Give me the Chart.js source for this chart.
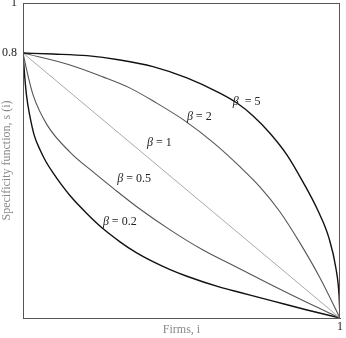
<!DOCTYPE html>
<html>
<head>
<meta charset="utf-8">
<script src="https://cdn.jsdelivr.net/npm/chart.js@4.4.1/dist/chart.umd.min.js"></script>
<style>
  html, body { margin: 0; padding: 0; background: #fff; }
  #wrap { width: 346px; height: 338px; position: relative; }
</style>
</head>
<body>
<div id="wrap"><canvas id="specChart"></canvas></div>
<script>
// Specificity function s(i) against firms i, one curve per beta.
// Values (x = firms share, y = specificity).
const beta5X = [0, 0.095, 0.202, 0.306, 0.410, 0.517, 0.621, 0.675, 0.726, 0.779, 0.833, 0.883, 0.931, 0.965, 0.987, 0.997, 1];
const beta5Y = [0.8, 0.797, 0.792, 0.779, 0.759, 0.725, 0.679, 0.649, 0.610, 0.558, 0.492, 0.411, 0.323, 0.242, 0.151, 0.069, 0];

const beta2X = [0, 0.148, 0.252, 0.338, 0.416, 0.511, 0.606, 0.685, 0.748, 0.811, 0.874, 0.937, 1];
const beta2Y = [0.8, 0.764, 0.728, 0.694, 0.652, 0.595, 0.525, 0.456, 0.395, 0.320, 0.226, 0.121, 0];

const beta1X = [0, 1];
const beta1Y = [0.8, 0];

const beta05X = [0, 0.013, 0.032, 0.076, 0.148, 0.221, 0.284, 0.360, 0.464, 0.568, 0.685, 0.795, 0.893, 1];
const beta05Y = [0.8, 0.743, 0.673, 0.583, 0.501, 0.441, 0.392, 0.335, 0.266, 0.205, 0.148, 0.094, 0.048, 0];

const beta02X = [0, 0.005, 0.011, 0.021, 0.035, 0.054, 0.073, 0.095, 0.120, 0.148, 0.202, 0.252, 0.306, 0.356, 0.410, 0.464, 0.517, 0.621, 0.685, 0.789, 0.893, 1];
const beta02Y = [0.8, 0.734, 0.673, 0.613, 0.553, 0.507, 0.471, 0.438, 0.404, 0.370, 0.315, 0.270, 0.230, 0.198, 0.170, 0.146, 0.126, 0.093, 0.077, 0.051, 0.025, 0];

// axis ticks (the figure's top edge is labelled 1)
const yAxisTop = 0.951;
const yTickValues = [0.8, yAxisTop];
const yTickLabels = ['0.8', '1'];
const xTickValues = [1];
const xTickLabels = ['1'];

// curve labels: value text and anchor (left edge, middle) in data units
const labelTexts = ['  = 5', ' = 2', ' = 1', ' = 0.5', ' = 0.2'];
const labelX = [0.662, 0.517, 0.391, 0.297, 0.252];
const labelY = [0.652, 0.607, 0.528, 0.420, 0.290];

const SERIF = '"Liberation Serif", "DejaVu Serif", serif';

function toPoints(xs, ys) {
    return xs.map((x, k) => ({ x: x, y: ys[k] }));
}

function curve(xs, ys, color, width) {
    return {
        data: toPoints(xs, ys),
        borderColor: color,
        borderWidth: width,
        pointRadius: 0,
        fill: false,
        cubicInterpolationMode: 'monotone'
    };
}

// box round the plot area (top and right edges)
const framePlugin = {
    id: 'frame',
    afterDatasetsDraw(chart) {
        const a = chart.chartArea;
        const ctx = chart.ctx;
        ctx.save();
        ctx.strokeStyle = '#555';
        ctx.lineWidth = 1;
        ctx.strokeRect(a.left + 0.5, a.top + 0.5, a.right - a.left - 1, a.bottom - a.top);
        ctx.restore();
    }
};

// "β = n" labels next to the curves
const betaLabelPlugin = {
    id: 'betaLabels',
    afterDatasetsDraw(chart) {
        const ctx = chart.ctx;
        const xs = chart.scales.x;
        const ys = chart.scales.y;
        ctx.save();
        ctx.fillStyle = '#222';
        ctx.textBaseline = 'middle';
        ctx.textAlign = 'left';
        labelTexts.forEach((txt, k) => {
            let px = xs.getPixelForValue(labelX[k]);
            const py = ys.getPixelForValue(labelY[k]);
            ctx.font = 'italic 12px ' + SERIF;
            ctx.fillText('β', px, py);
            px += ctx.measureText('β').width;
            ctx.font = '12px ' + SERIF;
            ctx.fillText(txt, px, py);
        });
        ctx.restore();
    }
};

const ctx = document.getElementById('specChart');

new Chart(ctx, {
    type: 'line',
    data: {
        datasets: [
            curve(beta5X, beta5Y, '#111', 1.4),
            curve(beta2X, beta2Y, '#555', 1.1),
            curve(beta1X, beta1Y, '#aaa', 1),
            curve(beta05X, beta05Y, '#555', 1.1),
            curve(beta02X, beta02Y, '#111', 1.4)
        ]
    },
    options: {
        responsive: true,
        maintainAspectRatio: false,
        animation: false,
        layout: { padding: { top: 3, right: 6, left: 0, bottom: 0 } },
        plugins: {
            legend: { display: false },
            tooltip: { enabled: false }
        },
        scales: {
            x: {
                type: 'linear',
                min: 0,
                max: 1,
                grid: { display: false, drawTicks: false },
                border: { display: true, color: '#555', width: 1 },
                afterBuildTicks: scale => { scale.ticks = xTickValues.map(v => ({ value: v })); },
                afterFit: scale => { scale.height = 20; scale.paddingLeft = 0; scale.paddingRight = 0; },
                ticks: {
                    padding: 2,
                    color: '#222',
                    font: { family: SERIF, size: 12 },
                    callback: (v, idx) => xTickLabels[idx]
                },
                title: {
                    display: true,
                    text: 'Firms, i',
                    color: '#888',
                    font: { family: SERIF, size: 12 },
                    padding: { top: 0, bottom: 1 }
                }
            },
            y: {
                type: 'linear',
                min: 0,
                max: yAxisTop,
                grid: { display: false, drawTicks: false },
                border: { display: true, color: '#555', width: 1 },
                afterBuildTicks: scale => { scale.ticks = yTickValues.map(v => ({ value: v })); },
                afterFit: scale => { scale.width = 23; scale.paddingTop = 0; scale.paddingBottom = 0; },
                ticks: {
                    padding: 6,
                    color: '#222',
                    font: { family: SERIF, size: 12 },
                    callback: (v, idx) => yTickLabels[idx]
                },
                title: {
                    display: true,
                    text: 'Specificity function, s (i)',
                    color: '#888',
                    font: { family: SERIF, size: 12 },
                    padding: 0
                }
            }
        }
    },
    plugins: [framePlugin, betaLabelPlugin]
});
</script>
</body>
</html>
